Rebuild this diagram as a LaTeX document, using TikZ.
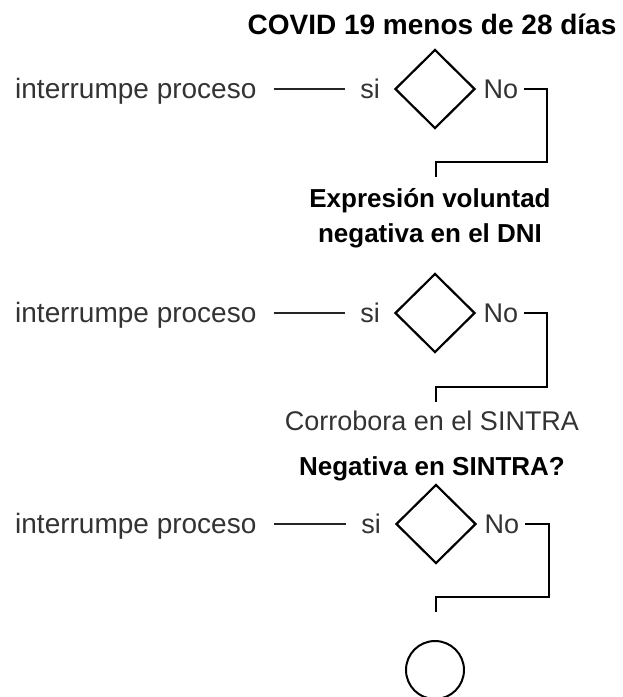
\documentclass[tikz,border=0pt]{standalone}
\usepackage{fontspec}
\setmainfont{Liberation Sans}
\usetikzlibrary{shapes.geometric}
\begin{document}
\begin{tikzpicture}[x=1pt,y=-1pt,
  boldlbl/.style={font=\fontsize{26}{31}\selectfont\bfseries, text=black, inner sep=0, anchor=base},
  reglbl/.style={font=\fontsize{27}{32}\selectfont, text=black!80, inner sep=0, anchor=base},
  leftlbl/.style={reglbl, font=\fontsize{28}{33}\selectfont, anchor=base west},
  decision/.style={diamond, draw=black, line width=2.2pt, minimum width=80pt, minimum height=79pt, inner sep=0, aspect=1},
  flow/.style={draw=black, line width=2.6pt},
  dashln/.style={draw=black!85, line width=2pt}]
\useasboundingbox (0,0) rectangle (623,697);
\fill[white] (0,0) rectangle (623,697);

% title 1
\node[boldlbl, font=\fontsize{28}{33}\selectfont\bfseries] (t1) at (432,34) {COVID 19 menos de 28 días};

% row 1
\node[decision] (d1) at (435,89) {};
\node[leftlbl] (i1) at (15,98) {interrumpe proceso};
\node[reglbl] (s1) at (370,98) {si};
\node[reglbl] (n1) at (501,98) {No};
\draw[dashln, shorten <=17pt, shorten >=15pt] (i1.east |- d1.west) -- (s1.west |- d1.west);
\coordinate (r1) at (547,162);
\coordinate (e1) at (436,177);
\draw[flow, shorten <=6pt] (n1.east |- d1.east) -| (r1) -| (e1);

% title 2
\node[boldlbl] (t2a) at (430,207) {Expresión voluntad};
\node[boldlbl] (t2b) at (430,242) {negativa en el DNI};

% row 2
\node[decision] (d2) at (435,313) {};
\node[leftlbl] (i2) at (15,322) {interrumpe proceso};
\node[reglbl] (s2) at (370,322) {si};
\node[reglbl] (n2) at (501,322) {No};
\draw[dashln, shorten <=17pt, shorten >=15pt] (i2.east |- d2.west) -- (s2.west |- d2.west);
\coordinate (r2) at (547,387);
\coordinate (e2) at (436,402);
\draw[flow, shorten <=6pt] (n2.east |- d2.east) -| (r2) -| (e2);

% title 3
\node[reglbl] (t3a) at (432,430) {Corrobora en el SINTRA};
\node[boldlbl] (t3b) at (432,475) {Negativa en SINTRA?};

% row 3
\node[decision] (d3) at (436,524) {};
\node[leftlbl] (i3) at (15,533) {interrumpe proceso};
\node[reglbl] (s3) at (371,533) {si};
\node[reglbl] (n3) at (502,533) {No};
\draw[dashln, shorten <=17pt, shorten >=15pt] (i3.east |- d3.west) -- (s3.west |- d3.west);
\coordinate (r3) at (549,597);
\coordinate (e3) at (436,612);
\draw[flow, shorten <=6pt] (n3.east |- d3.east) -| (r3) -| (e3);

% end
\node[circle, draw=black, line width=2pt, minimum size=58pt, inner sep=0] (fin) at (435,670) {};
\end{tikzpicture}
\end{document}
